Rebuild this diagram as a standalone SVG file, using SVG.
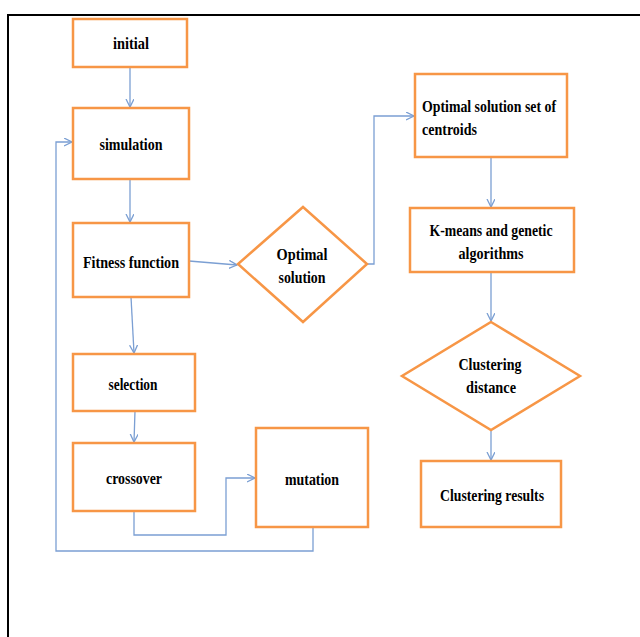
<svg xmlns="http://www.w3.org/2000/svg" width="640" height="637" viewBox="0 0 640 637">
<style>
.box{fill:#fff;stroke:#f79646;stroke-width:2.5}
.t{font-family:"Liberation Serif","Times New Roman",serif;font-weight:bold;font-size:17px;fill:#000;text-anchor:middle}
.tl{font-family:"Liberation Serif","Times New Roman",serif;font-weight:bold;font-size:17px;fill:#000;text-anchor:start}
.c{fill:none;stroke:#7b9fd3;stroke-width:1.3}
</style>
<defs>
<marker id="arr" markerUnits="userSpaceOnUse" markerWidth="10" markerHeight="10" refX="8" refY="4" orient="auto">
<path d="M0,0 L8,4 L0,8" fill="none" stroke="#7b9fd3" stroke-width="1.3"/>
</marker>
</defs>
<rect x="0" y="0" width="640" height="637" fill="#fff"/>
<g id="frame">
<path d="M8,637 V15 H640" fill="none" stroke="#000" stroke-width="2"/>
</g>
<g id="connectors">
<path class="c" d="M130,67 V107" marker-end="url(#arr)"/>
<path class="c" d="M130,179 V222" marker-end="url(#arr)"/>
<path class="c" d="M131,297 L134,353" marker-end="url(#arr)"/>
<path class="c" d="M135,411 L134,442" marker-end="url(#arr)"/>
<path class="c" d="M134,511 V535 H226 V478 H255" marker-end="url(#arr)"/>
<path class="c" d="M313,527 V551 H56 V142 H72" marker-end="url(#arr)"/>
<path class="c" d="M189,261 L237,265" marker-end="url(#arr)"/>
<path class="c" d="M367,264 H374 V116 H414" marker-end="url(#arr)"/>
<path class="c" d="M491,157 V207" marker-end="url(#arr)"/>
<path class="c" d="M491,272 V321" marker-end="url(#arr)"/>
<path class="c" d="M491,430 V460" marker-end="url(#arr)"/>
</g>
<g id="initial">
<rect class="box" x="73" y="19" width="114" height="48"/>
<text class="t" x="131" y="49" textLength="36" lengthAdjust="spacingAndGlyphs">initial</text>
</g>
<g id="simulation">
<rect class="box" x="73" y="108" width="116" height="71"/>
<text class="t" x="131" y="150" textLength="63" lengthAdjust="spacingAndGlyphs">simulation</text>
</g>
<g id="fitness">
<rect class="box" x="73" y="223" width="116" height="74"/>
<text class="t" x="131" y="268" textLength="96" lengthAdjust="spacingAndGlyphs">Fitness function</text>
</g>
<g id="optimal">
<polygon class="box" points="303,207 367,264 303,322 238,264"/>
<text class="t" x="302" y="260" textLength="51" lengthAdjust="spacingAndGlyphs">Optimal</text>
<text class="t" x="302" y="283" textLength="47" lengthAdjust="spacingAndGlyphs">solution</text>
</g>
<g id="centroids">
<rect class="box" x="415" y="74" width="152" height="83"/>
<text class="tl" x="422" y="112" textLength="134" lengthAdjust="spacingAndGlyphs">Optimal solution set of</text>
<text class="tl" x="422" y="135" textLength="55" lengthAdjust="spacingAndGlyphs">centroids</text>
</g>
<g id="kmeans">
<rect class="box" x="410" y="208" width="164" height="64"/>
<text class="t" x="491" y="236" textLength="123" lengthAdjust="spacingAndGlyphs">K-means and genetic</text>
<text class="t" x="491" y="259" textLength="65" lengthAdjust="spacingAndGlyphs">algorithms</text>
</g>
<g id="distance">
<polygon class="box" points="491,322 580,376 491,430 402,376"/>
<text class="t" x="490" y="370" textLength="63" lengthAdjust="spacingAndGlyphs">Clustering</text>
<text class="t" x="491" y="393" textLength="50" lengthAdjust="spacingAndGlyphs">distance</text>
</g>
<g id="results">
<rect class="box" x="421" y="461" width="140" height="66"/>
<text class="t" x="492" y="501" textLength="104" lengthAdjust="spacingAndGlyphs">Clustering results</text>
</g>
<g id="selection">
<rect class="box" x="73" y="354" width="122" height="57"/>
<text class="t" x="133" y="390" textLength="49" lengthAdjust="spacingAndGlyphs">selection</text>
</g>
<g id="crossover">
<rect class="box" x="73" y="443" width="122" height="68"/>
<text class="t" x="134" y="484" textLength="56" lengthAdjust="spacingAndGlyphs">crossover</text>
</g>
<g id="mutation">
<rect class="box" x="256" y="428" width="112" height="99"/>
<text class="t" x="312" y="485" textLength="54" lengthAdjust="spacingAndGlyphs">mutation</text>
</g>
</svg>
